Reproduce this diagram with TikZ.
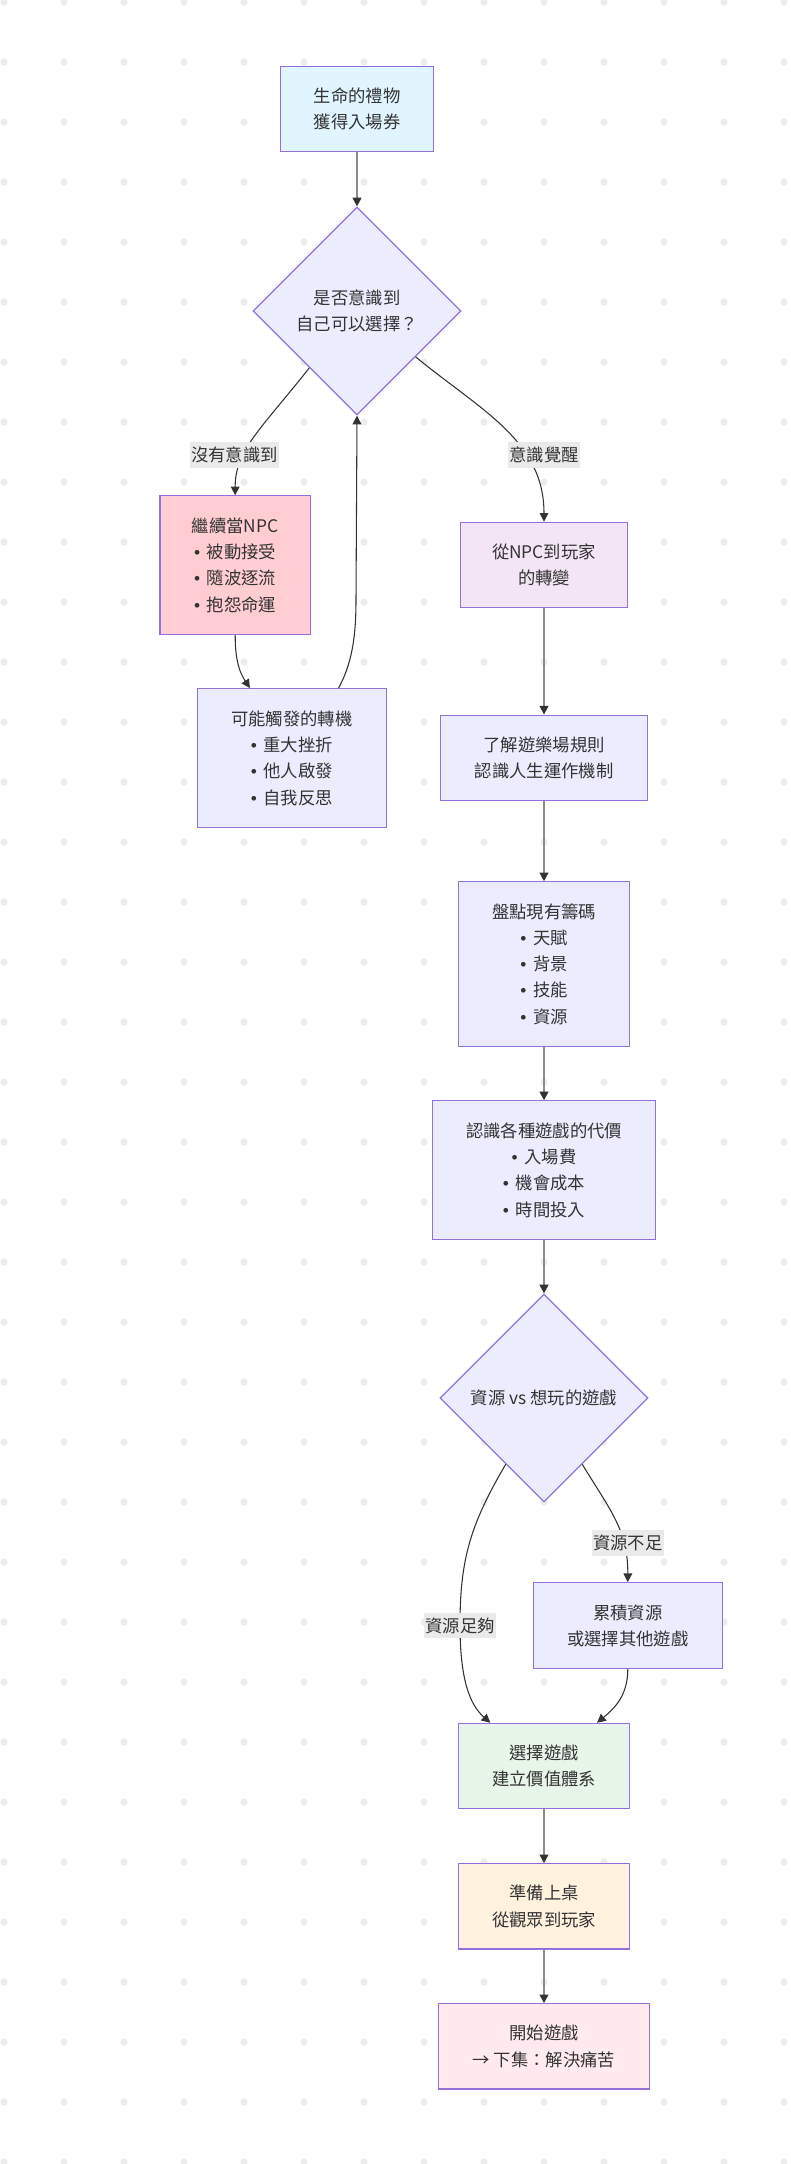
\documentclass[tikz,border=0pt]{standalone}
\usepackage{fontspec}
\newfontfamily\cjk{Noto Sans CJK TC}
\newfontfamily\latn{Liberation Sans}
\newcommand{\bul}{{\latn\char"2022}\hspace{5pt}}
\usetikzlibrary{arrows.meta,shapes.geometric,calc}
\definecolor{txt}{HTML}{333333}
\definecolor{edgec}{HTML}{333333}
\definecolor{strokec}{HTML}{9370DB}
\definecolor{defc}{HTML}{ECECFF}
\definecolor{startc}{HTML}{E1F5FE}
\definecolor{npcc}{HTML}{FFCDD2}
\definecolor{playerc}{HTML}{F3E5F5}
\definecolor{choosec}{HTML}{E8F5E9}
\definecolor{prepc}{HTML}{FFF3E0}
\definecolor{beginc}{HTML}{FFEBEE}
\definecolor{dotc}{HTML}{ECECEC}
\definecolor{lblc}{HTML}{EAEAEA}
\definecolor{strc}{HTML}{8C8C8C}
\begin{document}
\begin{tikzpicture}[x=0.75pt,y=-0.75pt,
  every node/.style={text=txt,font=\cjk\fontsize{13pt}{19.7pt}\selectfont},
  box/.style 2 args={draw=strokec,line width=0.9pt,rectangle,align=center,inner sep=0pt,minimum width=#1*0.75pt,minimum height=#2*0.75pt},
  dec/.style={draw=strokec,line width=0.9pt,diamond,aspect=1,align=center,inner sep=0pt,minimum width=156pt,minimum height=156pt,fill=defc},
  lbl/.style={fill=lblc,inner xsep=1pt,inner ysep=0pt,minimum height=19pt},
  tipc/.style={-{Triangle[length=6.5pt,width=6.5pt,color=edgec]}},
  straight/.style={tipc,draw=strc,line width=1.5pt},
  curved/.style={tipc,draw=edgec,line width=0.8pt},
]
\fill[white] (0,0) rectangle (790,2164);
\useasboundingbox (0,0) rectangle (790,2164);
\foreach \i in {0,...,13} \foreach \j in {0,...,36} \fill[dotc] (4+60*\i,2+60*\j) circle[radius=2.7pt];

% nodes
\node[box={153.7}{85.7},fill=startc] (start) at (357,109) {生命的禮物\\獲得入場券};
\node[dec] (d1) at (357,311) {是否意識到\\自己可以選擇？};
\node[box={150.3}{138.3},fill=npcc] (npc) at (235.2,565) {繼續當NPC\\\bul 被動接受\\\bul 隨波逐流\\\bul 抱怨命運};
\node[box={189}{138.6},fill=defc] (trig) at (291.8,758) {可能觸發的轉機\\\bul 重大挫折\\\bul 他人啟發\\\bul 自我反思};
\node[box={167.7}{85.4},fill=playerc] (player) at (544,565) {從NPC到玩家\\的轉變};
\node[box={206.6}{85.7},fill=defc] (learn) at (544,758) {了解遊樂場規則\\認識人生運作機制};
\node[box={171}{164.3},fill=defc] (chips) at (544,964) {盤點現有籌碼\\\bul 天賦\\\bul 背景\\\bul 技能\\\bul 資源};
\node[box={223.7}{138.3},fill=defc] (cost) at (544,1170) {認識各種遊戲的代價\\\bul 入場費\\\bul 機會成本\\\bul 時間投入};
\node[dec] (d2) at (544,1398) {資源 vs 想玩的遊戲};
\node[box={189}{85.8},fill=defc] (accum) at (627.8,1625.6) {累積資源\\或選擇其他遊戲};
\node[box={171.4}{85.4},fill=choosec] (choose) at (544,1766) {選擇遊戲\\建立價值體系};
\node[box={171.4}{85.3},fill=prepc] (prep) at (544,1906.4) {準備上桌\\從觀眾到玩家};
\node[box={211.4}{85.3},fill=beginc] (begin) at (544,2046.4) {開始遊戲\\→ 下集：解決痛苦};

% edges
\draw[straight] (start) -- (d1);
\draw[curved] (d1.-130) .. controls (262,428) and (235,450) .. (npc.north);
\draw[curved] (d1.-38) .. controls (480,410) and (544,440) .. (player.north);
\draw[curved] (npc.south) .. controls (235,665) and (242,676) .. ($(trig.north west)!0.28!(trig.north east)$);
\draw[curved] ($(trig.north west)!0.746!(trig.north east)$) .. controls (351,665) and (356,640) .. (356,600) -- (d1.south);
\draw[straight] (player) -- (learn);
\draw[straight] (learn) -- (chips);
\draw[straight] (chips) -- (cost);
\draw[straight] (cost) -- (d2);
\draw[curved] (d2.-60) .. controls (610,1510) and (628,1530) .. (accum.north);
\draw[curved] (d2.-120) .. controls (470,1525) and (460,1560) .. (460,1625) .. controls (460,1680) and (470,1705) .. ($(choose.north west)!0.189!(choose.north east)$);
\draw[curved] (accum.south) .. controls (627.8,1695) and (615,1708) .. ($(choose.north west)!0.807!(choose.north east)$);
\draw[straight] (choose) -- (prep);
\draw[straight] (prep) -- (begin);

% labels
\node[lbl] (l1) at (234.5,455) {沒有意識到};
\node[lbl] (l2) at (544,455) {意識覺醒};
\node[lbl] (l3) at (627.7,1543) {資源不足};
\node[lbl] (l4) at (460,1625.5) {資源足夠};
\end{tikzpicture}
\end{document}
